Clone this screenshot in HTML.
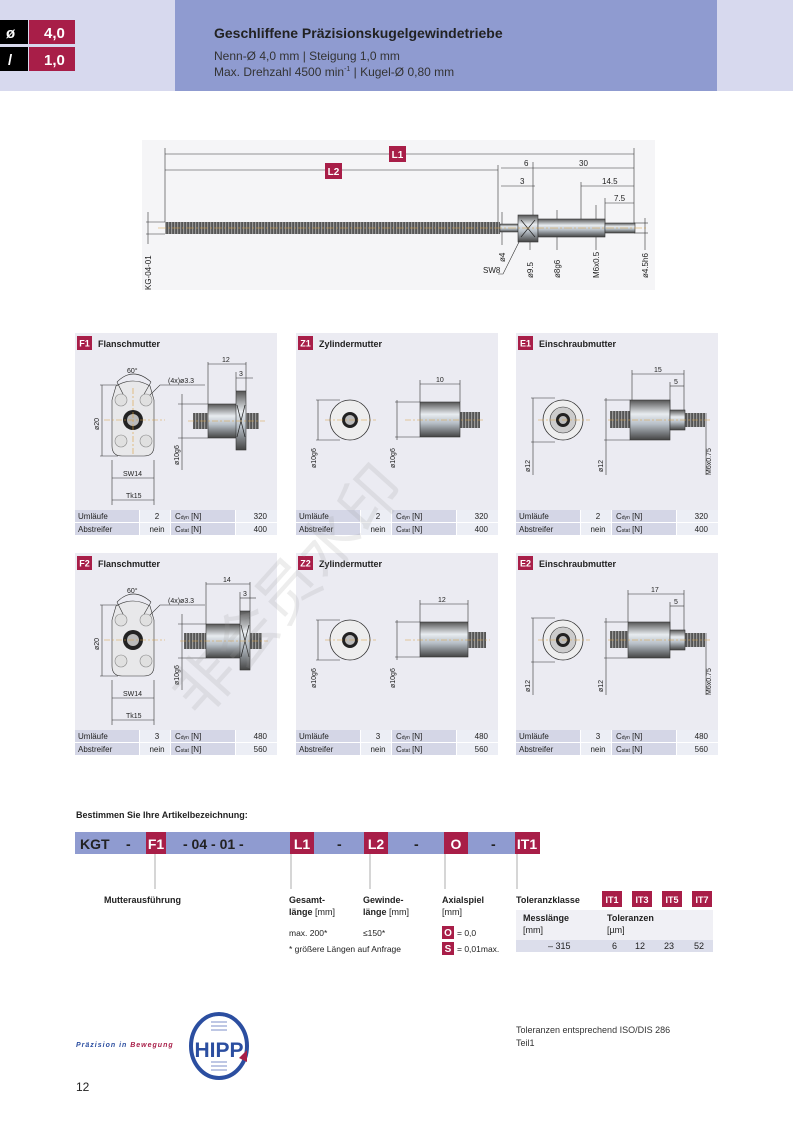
<!DOCTYPE html>
<html><head><meta charset="utf-8"><style>
html,body{margin:0;padding:0;background:#fff}
svg{display:block;font-family:"Liberation Sans","Noto Sans CJK SC",sans-serif}
.b{font-weight:bold}
</style></head><body>
<svg width="793" height="1122" viewBox="0 0 793 1122" xmlns="http://www.w3.org/2000/svg">
<defs>
<linearGradient id="m" x1="0" y1="0" x2="0" y2="1">
<stop offset="0" stop-color="#555"/><stop offset=".35" stop-color="#e8ecf0"/><stop offset=".6" stop-color="#b8c0c8"/><stop offset="1" stop-color="#444"/></linearGradient>
<pattern id="th" width="3" height="10" patternUnits="userSpaceOnUse"><rect width="3" height="10" fill="#555"/><rect width="1.2" height="10" fill="#999"/></pattern>
</defs>
<!-- header -->
<rect x="0" y="0" width="793" height="91" fill="#d7d9ee"/>
<rect x="175" y="0" width="542" height="91" fill="#8f9bd0"/>
<rect x="0" y="20" width="28" height="24" fill="#000"/><rect x="29" y="20" width="46" height="24" fill="#a81e48"/>
<rect x="0" y="47" width="28" height="24" fill="#000"/><rect x="29" y="47" width="46" height="24" fill="#a81e48"/>
<text x="6" y="38" fill="#fff" class="b" font-size="15">ø</text><text x="44" y="38" fill="#fff" class="b" font-size="15">4,0</text>
<text x="8" y="65" fill="#fff" class="b" font-size="15">/</text><text x="44" y="65" fill="#fff" class="b" font-size="15">1,0</text>
<text x="214" y="38" class="b" font-size="14" fill="#222">Geschliffene Präzisionskugelgewindetriebe</text>
<text x="214" y="60" font-size="12" fill="#333">Nenn-Ø 4,0 mm  |  Steigung 1,0 mm</text>
<text x="214" y="76" font-size="12" fill="#333">Max. Drehzahl 4500 min<tspan font-size="7" dy="-5">-1</tspan><tspan dy="5">  |  Kugel-Ø 0,80 mm</tspan></text>

<!-- top drawing -->
<rect x="142" y="140" width="513" height="150" fill="#f5f5f7"/>
<g stroke="#333" stroke-width=".6" fill="none">
<line x1="165" y1="154" x2="634" y2="154"/><line x1="165" y1="170" x2="498" y2="170"/>
<line x1="501" y1="168" x2="533" y2="168"/><line x1="533" y1="168" x2="634" y2="168"/>
<line x1="501" y1="186" x2="535" y2="186"/><line x1="581" y1="186" x2="634" y2="186"/><line x1="605" y1="203" x2="634" y2="203"/>
<line x1="165" y1="148" x2="165" y2="222"/><line x1="634" y1="148" x2="634" y2="223"/><line x1="498" y1="165" x2="498" y2="222"/>
<line x1="533" y1="162" x2="533" y2="215"/><line x1="581" y1="182" x2="581" y2="219"/><line x1="605" y1="198" x2="605" y2="223"/>
<line x1="148" y1="212" x2="148" y2="244"/><line x1="146" y1="222" x2="165" y2="222"/><line x1="146" y1="234" x2="165" y2="234"/>
<line x1="502" y1="212" x2="502" y2="245"/><line x1="530" y1="235" x2="530" y2="250"/><line x1="557" y1="210" x2="557" y2="250"/><line x1="596" y1="205" x2="596" y2="250"/>
<line x1="645" y1="218" x2="645" y2="250"/><line x1="634" y1="223" x2="648" y2="223"/><line x1="634" y1="233" x2="648" y2="233"/>
<polyline points="498,274 503,274 520,240"/>
</g>
<rect x="165" y="222" width="335" height="12" fill="url(#th)"/>
<rect x="500" y="224" width="18" height="8" fill="url(#m)" stroke="#333" stroke-width=".5"/>
<rect x="518" y="215" width="20" height="27" fill="url(#m)" stroke="#333" stroke-width=".6"/>
<path d="M521 220 L535 237 M535 220 L521 237" stroke="#222" stroke-width=".7"/>
<rect x="538" y="219" width="67" height="18" fill="url(#m)" stroke="#333" stroke-width=".6"/>
<rect x="605" y="223" width="30" height="10" fill="url(#m)" stroke="#333" stroke-width=".6"/>
<line x1="158" y1="228" x2="648" y2="228" stroke="#d9a040" stroke-width=".6" stroke-dasharray="8,2,2,2"/>
<rect x="389" y="146" width="17" height="16" fill="#a81e48"/><text x="397.5" y="158" fill="#fff" class="b" font-size="10" text-anchor="middle">L1</text>
<rect x="325" y="163" width="17" height="16" fill="#a81e48"/><text x="333.5" y="175" fill="#fff" class="b" font-size="10" text-anchor="middle">L2</text>
<g font-size="8" fill="#222">
<text x="524" y="166">6</text><text x="579" y="166">30</text><text x="520" y="184">3</text><text x="602" y="184">14.5</text><text x="614" y="201">7.5</text>
<text x="483" y="273">SW8</text>
<text transform="translate(151,290) rotate(-90)">KG-04-01</text>
<text transform="translate(505,262) rotate(-90)">ø4</text>
<text transform="translate(533,278) rotate(-90)">ø9.5</text>
<text transform="translate(560,278) rotate(-90)">ø8g6</text>
<text transform="translate(599,278) rotate(-90)">M6x0.5</text>
<text transform="translate(648,278) rotate(-90)">ø4.5h6</text>
</g>

<!-- panel template pieces -->
<g id="panels" font-size="8" fill="#222">
<!-- Row backgrounds -->
<rect x="75" y="333" width="202" height="204" fill="#ebebf2"/>
<rect x="296" y="333" width="202" height="204" fill="#ebebf2"/>
<rect x="516" y="333" width="202" height="204" fill="#ebebf2"/>
<rect x="75" y="553" width="202" height="204" fill="#ebebf2"/>
<rect x="296" y="553" width="202" height="204" fill="#ebebf2"/>
<rect x="516" y="553" width="202" height="204" fill="#ebebf2"/>
</g>

<!-- tables & headers, one per panel -->
<g font-size="8" fill="#222">
<g transform="translate(75,333)">
<rect x="0" y="177" width="202" height="27" fill="#fff"/>
<rect x="0" y="177" width="64" height="12" fill="#d4d6e6"/><rect x="65" y="177" width="30" height="12" fill="#eceef5"/><rect x="96" y="177" width="64" height="12" fill="#d4d6e6"/><rect x="161" y="177" width="41" height="12" fill="#eceef5"/>
<rect x="0" y="190" width="64" height="12" fill="#d4d6e6"/><rect x="65" y="190" width="30" height="12" fill="#eceef5"/><rect x="96" y="190" width="64" height="12" fill="#d4d6e6"/><rect x="161" y="190" width="41" height="12" fill="#eceef5"/>
<text x="3" y="186">Umläufe</text><text x="3" y="199">Abstreifer</text>
<text x="82" y="186" text-anchor="middle">2</text><text x="82" y="199" text-anchor="middle">nein</text>
<text x="100" y="186">C<tspan font-size="5">dyn</tspan> [N]</text><text x="100" y="199">C<tspan font-size="5">stat</tspan> [N]</text>
<text x="192" y="186" text-anchor="end">320</text><text x="192" y="199" text-anchor="end">400</text>
<rect x="2" y="3" width="15" height="14" fill="#a81e48"/><text x="9.5" y="13.5" fill="#fff" class="b" font-size="9" text-anchor="middle">F1</text>
<text x="23" y="14" class="b" font-size="9">Flanschmutter</text>
</g>
<g transform="translate(296,333)">
<rect x="0" y="177" width="202" height="27" fill="#fff"/>
<rect x="0" y="177" width="64" height="12" fill="#d4d6e6"/><rect x="65" y="177" width="30" height="12" fill="#eceef5"/><rect x="96" y="177" width="64" height="12" fill="#d4d6e6"/><rect x="161" y="177" width="41" height="12" fill="#eceef5"/>
<rect x="0" y="190" width="64" height="12" fill="#d4d6e6"/><rect x="65" y="190" width="30" height="12" fill="#eceef5"/><rect x="96" y="190" width="64" height="12" fill="#d4d6e6"/><rect x="161" y="190" width="41" height="12" fill="#eceef5"/>
<text x="3" y="186">Umläufe</text><text x="3" y="199">Abstreifer</text>
<text x="82" y="186" text-anchor="middle">2</text><text x="82" y="199" text-anchor="middle">nein</text>
<text x="100" y="186">C<tspan font-size="5">dyn</tspan> [N]</text><text x="100" y="199">C<tspan font-size="5">stat</tspan> [N]</text>
<text x="192" y="186" text-anchor="end">320</text><text x="192" y="199" text-anchor="end">400</text>
<rect x="2" y="3" width="15" height="14" fill="#a81e48"/><text x="9.5" y="13.5" fill="#fff" class="b" font-size="9" text-anchor="middle">Z1</text>
<text x="23" y="14" class="b" font-size="9">Zylindermutter</text>
</g>
<g transform="translate(516,333)">
<rect x="0" y="177" width="202" height="27" fill="#fff"/>
<rect x="0" y="177" width="64" height="12" fill="#d4d6e6"/><rect x="65" y="177" width="30" height="12" fill="#eceef5"/><rect x="96" y="177" width="64" height="12" fill="#d4d6e6"/><rect x="161" y="177" width="41" height="12" fill="#eceef5"/>
<rect x="0" y="190" width="64" height="12" fill="#d4d6e6"/><rect x="65" y="190" width="30" height="12" fill="#eceef5"/><rect x="96" y="190" width="64" height="12" fill="#d4d6e6"/><rect x="161" y="190" width="41" height="12" fill="#eceef5"/>
<text x="3" y="186">Umläufe</text><text x="3" y="199">Abstreifer</text>
<text x="82" y="186" text-anchor="middle">2</text><text x="82" y="199" text-anchor="middle">nein</text>
<text x="100" y="186">C<tspan font-size="5">dyn</tspan> [N]</text><text x="100" y="199">C<tspan font-size="5">stat</tspan> [N]</text>
<text x="192" y="186" text-anchor="end">320</text><text x="192" y="199" text-anchor="end">400</text>
<rect x="2" y="3" width="15" height="14" fill="#a81e48"/><text x="9.5" y="13.5" fill="#fff" class="b" font-size="9" text-anchor="middle">E1</text>
<text x="23" y="14" class="b" font-size="9">Einschraubmutter</text>
</g>
<g transform="translate(75,553)">
<rect x="0" y="177" width="202" height="27" fill="#fff"/>
<rect x="0" y="177" width="64" height="12" fill="#d4d6e6"/><rect x="65" y="177" width="30" height="12" fill="#eceef5"/><rect x="96" y="177" width="64" height="12" fill="#d4d6e6"/><rect x="161" y="177" width="41" height="12" fill="#eceef5"/>
<rect x="0" y="190" width="64" height="12" fill="#d4d6e6"/><rect x="65" y="190" width="30" height="12" fill="#eceef5"/><rect x="96" y="190" width="64" height="12" fill="#d4d6e6"/><rect x="161" y="190" width="41" height="12" fill="#eceef5"/>
<text x="3" y="186">Umläufe</text><text x="3" y="199">Abstreifer</text>
<text x="82" y="186" text-anchor="middle">3</text><text x="82" y="199" text-anchor="middle">nein</text>
<text x="100" y="186">C<tspan font-size="5">dyn</tspan> [N]</text><text x="100" y="199">C<tspan font-size="5">stat</tspan> [N]</text>
<text x="192" y="186" text-anchor="end">480</text><text x="192" y="199" text-anchor="end">560</text>
<rect x="2" y="3" width="15" height="14" fill="#a81e48"/><text x="9.5" y="13.5" fill="#fff" class="b" font-size="9" text-anchor="middle">F2</text>
<text x="23" y="14" class="b" font-size="9">Flanschmutter</text>
</g>
<g transform="translate(296,553)">
<rect x="0" y="177" width="202" height="27" fill="#fff"/>
<rect x="0" y="177" width="64" height="12" fill="#d4d6e6"/><rect x="65" y="177" width="30" height="12" fill="#eceef5"/><rect x="96" y="177" width="64" height="12" fill="#d4d6e6"/><rect x="161" y="177" width="41" height="12" fill="#eceef5"/>
<rect x="0" y="190" width="64" height="12" fill="#d4d6e6"/><rect x="65" y="190" width="30" height="12" fill="#eceef5"/><rect x="96" y="190" width="64" height="12" fill="#d4d6e6"/><rect x="161" y="190" width="41" height="12" fill="#eceef5"/>
<text x="3" y="186">Umläufe</text><text x="3" y="199">Abstreifer</text>
<text x="82" y="186" text-anchor="middle">3</text><text x="82" y="199" text-anchor="middle">nein</text>
<text x="100" y="186">C<tspan font-size="5">dyn</tspan> [N]</text><text x="100" y="199">C<tspan font-size="5">stat</tspan> [N]</text>
<text x="192" y="186" text-anchor="end">480</text><text x="192" y="199" text-anchor="end">560</text>
<rect x="2" y="3" width="15" height="14" fill="#a81e48"/><text x="9.5" y="13.5" fill="#fff" class="b" font-size="9" text-anchor="middle">Z2</text>
<text x="23" y="14" class="b" font-size="9">Zylindermutter</text>
</g>
<g transform="translate(516,553)">
<rect x="0" y="177" width="202" height="27" fill="#fff"/>
<rect x="0" y="177" width="64" height="12" fill="#d4d6e6"/><rect x="65" y="177" width="30" height="12" fill="#eceef5"/><rect x="96" y="177" width="64" height="12" fill="#d4d6e6"/><rect x="161" y="177" width="41" height="12" fill="#eceef5"/>
<rect x="0" y="190" width="64" height="12" fill="#d4d6e6"/><rect x="65" y="190" width="30" height="12" fill="#eceef5"/><rect x="96" y="190" width="64" height="12" fill="#d4d6e6"/><rect x="161" y="190" width="41" height="12" fill="#eceef5"/>
<text x="3" y="186">Umläufe</text><text x="3" y="199">Abstreifer</text>
<text x="82" y="186" text-anchor="middle">3</text><text x="82" y="199" text-anchor="middle">nein</text>
<text x="100" y="186">C<tspan font-size="5">dyn</tspan> [N]</text><text x="100" y="199">C<tspan font-size="5">stat</tspan> [N]</text>
<text x="192" y="186" text-anchor="end">480</text><text x="192" y="199" text-anchor="end">560</text>
<rect x="2" y="3" width="15" height="14" fill="#a81e48"/><text x="9.5" y="13.5" fill="#fff" class="b" font-size="9" text-anchor="middle">E2</text>
<text x="23" y="14" class="b" font-size="9">Einschraubmutter</text>
</g>
</g>

<!-- Flanschmutter drawings -->
<g id="fl">
<g stroke="#333" stroke-width=".6" fill="none">
<path d="M116 386 Q133 376 150 386 L154 400 L154 446 Q154 456 144 456 L122 456 Q112 456 112 446 L112 400 Z" fill="#e8e8ea"/>
<line x1="102" y1="385" x2="102" y2="456"/><line x1="100" y1="385" x2="118" y2="385"/><line x1="100" y1="456" x2="118" y2="456"/>
<path d="M117 382 Q133 366 151 382"/><line x1="117" y1="382" x2="124" y2="396"/><line x1="151" y1="382" x2="143" y2="396"/>
<line x1="112" y1="460" x2="112" y2="505"/><line x1="154" y1="460" x2="154" y2="505"/><line x1="112" y1="478" x2="154" y2="478"/><line x1="112" y1="500" x2="154" y2="500"/>
<polyline points="147,398 160,385 205,385"/>
<line x1="182" y1="394" x2="182" y2="470"/><line x1="178" y1="404" x2="208" y2="404"/><line x1="178" y1="438" x2="208" y2="438"/>
<line x1="208" y1="362" x2="208" y2="404"/><line x1="246" y1="362" x2="246" y2="391"/><line x1="208" y1="364" x2="246" y2="364"/>
<line x1="236" y1="378" x2="253" y2="378"/><line x1="236" y1="372" x2="236" y2="391"/>
</g>
<g stroke="#888" stroke-width=".6" fill="#e0e0e0"><circle cx="121" cy="400" r="6"/><circle cx="146" cy="400" r="6"/><circle cx="121" cy="441" r="6"/><circle cx="146" cy="441" r="6"/></g>
<circle cx="133" cy="420" r="10" fill="#222"/><circle cx="133" cy="420" r="6" fill="#bbb"/>
<line x1="104" y1="420" x2="165" y2="420" stroke="#d9a040" stroke-width=".6" stroke-dasharray="6,2,2,2"/>
<line x1="133" y1="388" x2="133" y2="455" stroke="#d9a040" stroke-width=".6" stroke-dasharray="6,2,2,2"/>
<rect x="193" y="413" width="15" height="16" fill="url(#th)"/>
<rect x="246" y="413" width="13" height="16" fill="url(#th)"/>
<rect x="208" y="404" width="30" height="34" fill="url(#m)" stroke="#333" stroke-width=".6"/>
<rect x="236" y="391" width="10" height="59" fill="url(#m)" stroke="#333" stroke-width=".6"/>
<path d="M237 405 L245 437 M245 405 L237 437" stroke="#222" stroke-width=".7"/>
<line x1="188" y1="421" x2="265" y2="421" stroke="#d9a040" stroke-width=".6" stroke-dasharray="6,2,2,2"/>
</g>
<g font-size="7" fill="#222">
<text x="127" y="373">60°</text><text x="168" y="383">(4x)ø3.3</text><text x="222" y="362">12</text><text x="239" y="376">3</text>
<text x="123" y="476">SW14</text><text x="126" y="498">Tk15</text>
<text transform="translate(99,430) rotate(-90)">ø20</text><text transform="translate(179,465) rotate(-90)">ø10g6</text>
</g>
<!-- F2 -->
<g transform="translate(0,220)">
<g stroke="#333" stroke-width=".6" fill="none">
<path d="M116 386 Q133 376 150 386 L154 400 L154 446 Q154 456 144 456 L122 456 Q112 456 112 446 L112 400 Z" fill="#e8e8ea"/>
<line x1="102" y1="385" x2="102" y2="456"/><line x1="100" y1="385" x2="118" y2="385"/><line x1="100" y1="456" x2="118" y2="456"/>
<path d="M117 382 Q133 366 151 382"/><line x1="117" y1="382" x2="124" y2="396"/><line x1="151" y1="382" x2="143" y2="396"/>
<line x1="112" y1="460" x2="112" y2="505"/><line x1="154" y1="460" x2="154" y2="505"/><line x1="112" y1="478" x2="154" y2="478"/><line x1="112" y1="500" x2="154" y2="500"/>
<polyline points="147,398 160,385 205,385"/>
<line x1="182" y1="394" x2="182" y2="470"/><line x1="178" y1="404" x2="206" y2="404"/><line x1="178" y1="438" x2="206" y2="438"/>
<line x1="206" y1="362" x2="206" y2="404"/><line x1="250" y1="362" x2="250" y2="391"/><line x1="206" y1="364" x2="250" y2="364"/>
<line x1="240" y1="378" x2="256" y2="378"/><line x1="240" y1="372" x2="240" y2="391"/>
</g>
<g stroke="#888" stroke-width=".6" fill="#e0e0e0"><circle cx="121" cy="400" r="6"/><circle cx="146" cy="400" r="6"/><circle cx="121" cy="441" r="6"/><circle cx="146" cy="441" r="6"/></g>
<circle cx="133" cy="420" r="10" fill="#222"/><circle cx="133" cy="420" r="6" fill="#bbb"/>
<line x1="104" y1="420" x2="165" y2="420" stroke="#d9a040" stroke-width=".6" stroke-dasharray="6,2,2,2"/>
<rect x="184" y="413" width="22" height="16" fill="url(#th)"/>
<rect x="250" y="413" width="12" height="16" fill="url(#th)"/>
<rect x="206" y="404" width="36" height="34" fill="url(#m)" stroke="#333" stroke-width=".6"/>
<rect x="240" y="391" width="10" height="59" fill="url(#m)" stroke="#333" stroke-width=".6"/>
<path d="M241 405 L249 437 M249 405 L241 437" stroke="#222" stroke-width=".7"/>
<line x1="180" y1="421" x2="268" y2="421" stroke="#d9a040" stroke-width=".6" stroke-dasharray="6,2,2,2"/>
<g font-size="7" fill="#222">
<text x="127" y="373">60°</text><text x="168" y="383">(4x)ø3.3</text><text x="223" y="362">14</text><text x="243" y="376">3</text>
<text x="123" y="476">SW14</text><text x="126" y="498">Tk15</text>
<text transform="translate(99,430) rotate(-90)">ø20</text><text transform="translate(179,465) rotate(-90)">ø10g6</text>
</g>
</g>

<!-- Zylindermutter -->
<g>
<g stroke="#333" stroke-width=".6" fill="none">
<line x1="318" y1="400" x2="318" y2="440"/><line x1="316" y1="400" x2="340" y2="400"/><line x1="316" y1="440" x2="340" y2="440"/>
<line x1="397" y1="400" x2="397" y2="440"/><line x1="395" y1="402" x2="420" y2="402"/><line x1="395" y1="437" x2="420" y2="437"/>
<line x1="420" y1="380" x2="420" y2="402"/><line x1="460" y1="380" x2="460" y2="402"/><line x1="420" y1="384" x2="460" y2="384"/>
</g>
<circle cx="350" cy="420" r="20" fill="#eee" stroke="#333" stroke-width=".8"/><circle cx="350" cy="420" r="8" fill="#222"/><circle cx="350" cy="420" r="5" fill="#bbb"/>
<line x1="325" y1="420" x2="376" y2="420" stroke="#d9a040" stroke-width=".6" stroke-dasharray="6,2,2,2"/>
<rect x="460" y="412" width="20" height="16" fill="url(#th)"/>
<rect x="420" y="402" width="40" height="35" fill="url(#m)" stroke="#333" stroke-width=".6"/>
<line x1="405" y1="420" x2="485" y2="420" stroke="#d9a040" stroke-width=".6" stroke-dasharray="6,2,2,2"/>
<g font-size="7" fill="#222"><text x="436" y="382">10</text>
<text transform="translate(316,468) rotate(-90)">ø10g6</text><text transform="translate(395,468) rotate(-90)">ø10g6</text></g>
</g>
<g transform="translate(0,220)">
<g stroke="#333" stroke-width=".6" fill="none">
<line x1="318" y1="400" x2="318" y2="440"/><line x1="316" y1="400" x2="340" y2="400"/><line x1="316" y1="440" x2="340" y2="440"/>
<line x1="397" y1="400" x2="397" y2="440"/><line x1="395" y1="402" x2="420" y2="402"/><line x1="395" y1="437" x2="420" y2="437"/>
<line x1="420" y1="380" x2="420" y2="402"/><line x1="468" y1="380" x2="468" y2="402"/><line x1="420" y1="384" x2="468" y2="384"/>
</g>
<circle cx="350" cy="420" r="20" fill="#eee" stroke="#333" stroke-width=".8"/><circle cx="350" cy="420" r="8" fill="#222"/><circle cx="350" cy="420" r="5" fill="#bbb"/>
<line x1="325" y1="420" x2="376" y2="420" stroke="#d9a040" stroke-width=".6" stroke-dasharray="6,2,2,2"/>
<rect x="468" y="412" width="18" height="16" fill="url(#th)"/>
<rect x="420" y="402" width="48" height="35" fill="url(#m)" stroke="#333" stroke-width=".6"/>
<line x1="405" y1="420" x2="490" y2="420" stroke="#d9a040" stroke-width=".6" stroke-dasharray="6,2,2,2"/>
<g font-size="7" fill="#222"><text x="438" y="382">12</text>
<text transform="translate(316,468) rotate(-90)">ø10g6</text><text transform="translate(395,468) rotate(-90)">ø10g6</text></g>
</g>

<!-- Einschraubmutter -->
<g>
<g stroke="#333" stroke-width=".6" fill="none">
<line x1="533" y1="398" x2="533" y2="475"/><line x1="531" y1="398" x2="555" y2="398"/><line x1="531" y1="442" x2="555" y2="442"/>
<line x1="606" y1="398" x2="606" y2="475"/><line x1="604" y1="400" x2="630" y2="400"/><line x1="604" y1="440" x2="630" y2="440"/>
<line x1="632" y1="370" x2="632" y2="400"/><line x1="684" y1="370" x2="684" y2="410"/><line x1="632" y1="374" x2="684" y2="374"/>
<line x1="670" y1="382" x2="670" y2="410"/><line x1="670" y1="386" x2="684" y2="386"/>
<line x1="706" y1="413" x2="706" y2="475"/>
</g>
<circle cx="563" cy="420" r="20" fill="#eee" stroke="#333" stroke-width=".8"/><circle cx="563" cy="420" r="13" fill="#ccc" stroke="#333" stroke-width=".6"/><circle cx="563" cy="420" r="7" fill="#222"/><circle cx="563" cy="420" r="4" fill="#bbb"/>
<line x1="538" y1="420" x2="590" y2="420" stroke="#d9a040" stroke-width=".6" stroke-dasharray="6,2,2,2"/>
<rect x="610" y="411" width="22" height="17" fill="url(#th)"/>
<rect x="685" y="413" width="20" height="14" fill="url(#th)"/>
<rect x="630" y="400" width="40" height="40" fill="url(#m)" stroke="#333" stroke-width=".6"/>
<rect x="670" y="410" width="15" height="20" fill="url(#m)" stroke="#333" stroke-width=".6"/>
<line x1="608" y1="420" x2="710" y2="420" stroke="#d9a040" stroke-width=".6" stroke-dasharray="6,2,2,2"/>
<g font-size="7" fill="#222"><text x="654" y="372">15</text><text x="674" y="384">5</text>
<text transform="translate(530,472) rotate(-90)">ø12</text><text transform="translate(603,472) rotate(-90)">ø12</text><text transform="translate(711,475) rotate(-90)">M6x0.75</text></g>
</g>
<g transform="translate(0,220)">
<g stroke="#333" stroke-width=".6" fill="none">
<line x1="533" y1="398" x2="533" y2="475"/><line x1="531" y1="398" x2="555" y2="398"/><line x1="531" y1="442" x2="555" y2="442"/>
<line x1="606" y1="398" x2="606" y2="475"/><line x1="604" y1="402" x2="628" y2="402"/><line x1="604" y1="438" x2="628" y2="438"/>
<line x1="628" y1="370" x2="628" y2="402"/><line x1="684" y1="370" x2="684" y2="410"/><line x1="628" y1="374" x2="684" y2="374"/>
<line x1="670" y1="382" x2="670" y2="410"/><line x1="670" y1="386" x2="684" y2="386"/>
<line x1="706" y1="413" x2="706" y2="475"/>
</g>
<circle cx="563" cy="420" r="20" fill="#eee" stroke="#333" stroke-width=".8"/><circle cx="563" cy="420" r="13" fill="#ccc" stroke="#333" stroke-width=".6"/><circle cx="563" cy="420" r="7" fill="#222"/><circle cx="563" cy="420" r="4" fill="#bbb"/>
<line x1="538" y1="420" x2="590" y2="420" stroke="#d9a040" stroke-width=".6" stroke-dasharray="6,2,2,2"/>
<rect x="610" y="411" width="18" height="17" fill="url(#th)"/>
<rect x="685" y="413" width="20" height="14" fill="url(#th)"/>
<rect x="628" y="402" width="42" height="36" fill="url(#m)" stroke="#333" stroke-width=".6"/>
<rect x="670" y="410" width="15" height="20" fill="url(#m)" stroke="#333" stroke-width=".6"/>
<line x1="608" y1="420" x2="710" y2="420" stroke="#d9a040" stroke-width=".6" stroke-dasharray="6,2,2,2"/>
<g font-size="7" fill="#222"><text x="651" y="372">17</text><text x="674" y="384">5</text>
<text transform="translate(530,472) rotate(-90)">ø12</text><text transform="translate(603,472) rotate(-90)">ø12</text><text transform="translate(711,475) rotate(-90)">M6x0.75</text></g>
</g>

<!-- watermark -->
<text transform="translate(200,720) rotate(-48)" font-size="62" fill="#999" fill-opacity="0.18">非会员水印</text>

<!-- article code -->
<text x="76" y="818" class="b" font-size="9" fill="#222">Bestimmen Sie Ihre Artikelbezeichnung:</text>
<rect x="75" y="832" width="465" height="22" fill="#8f9bd0"/>
<g fill="#a81e48"><rect x="146" y="832" width="20" height="22"/><rect x="290" y="832" width="24" height="22"/><rect x="364" y="832" width="24" height="22"/><rect x="444" y="832" width="24" height="22"/><rect x="515" y="832" width="25" height="22"/></g>
<g class="b" font-size="14" fill="#222">
<text x="80" y="849">KGT</text><text x="126" y="849">-</text><text x="183" y="849">-  04  -  01  -</text><text x="337" y="849">-</text><text x="414" y="849">-</text><text x="491" y="849">-</text>
</g>
<g class="b" font-size="14" fill="#fff" text-anchor="middle">
<text x="156" y="849">F1</text><text x="302" y="849">L1</text><text x="376" y="849">L2</text><text x="456" y="849">O</text><text x="527" y="849">IT1</text>
</g>
<g stroke="#999" stroke-width=".8"><line x1="155" y1="854" x2="155" y2="889"/><line x1="291" y1="854" x2="291" y2="889"/><line x1="370" y1="854" x2="370" y2="889"/><line x1="445" y1="854" x2="445" y2="889"/><line x1="517" y1="854" x2="517" y2="889"/></g>
<g font-size="9" fill="#222">
<text x="104" y="903" class="b">Mutterausführung</text>
<text x="289" y="903" class="b">Gesamt-</text><text x="289" y="915"><tspan class="b">länge</tspan> [mm]</text>
<text x="363" y="903" class="b">Gewinde-</text><text x="363" y="915"><tspan class="b">länge</tspan> [mm]</text>
<text x="442" y="903" class="b">Axialspiel</text><text x="442" y="915">[mm]</text>
<text x="516" y="903" class="b">Toleranzklasse</text>
<text x="289" y="936" font-size="8.5">max. 200*</text><text x="363" y="936" font-size="8.5">≤150*</text>
<text x="289" y="952" font-size="8.5">* größere Längen auf Anfrage</text>
</g>
<rect x="442" y="926" width="12" height="13" fill="#a81e48"/><text x="448" y="936" class="b" font-size="10" fill="#fff" text-anchor="middle">O</text><text x="457" y="936" font-size="8.5" fill="#222">= 0,0</text>
<rect x="442" y="942" width="12" height="13" fill="#a81e48"/><text x="448" y="952" class="b" font-size="10" fill="#fff" text-anchor="middle">S</text><text x="457" y="952" font-size="8.5" fill="#222">= 0,01max.</text>
<g fill="#a81e48"><rect x="602" y="891" width="20" height="16"/><rect x="632" y="891" width="20" height="16"/><rect x="662" y="891" width="20" height="16"/><rect x="692" y="891" width="20" height="16"/></g>
<g class="b" font-size="9" fill="#fff" text-anchor="middle"><text x="612" y="903">IT1</text><text x="642" y="903">IT3</text><text x="672" y="903">IT5</text><text x="702" y="903">IT7</text></g>
<rect x="516" y="910" width="197" height="30" fill="#f0f0f5"/>
<rect x="516" y="940" width="197" height="12" fill="#dcdeeb"/>
<g font-size="9" fill="#222">
<text x="523" y="921" class="b">Messlänge</text><text x="523" y="933">[mm]</text>
<text x="607" y="921" class="b">Toleranzen</text><text x="607" y="933">[µm]</text>
<text x="548" y="949">–  315</text><text x="612" y="949">6</text><text x="635" y="949">12</text><text x="664" y="949">23</text><text x="694" y="949">52</text>
</g>

<!-- footer -->
<text x="76" y="1047" font-size="7" font-style="italic" class="b" fill="#2b4ea0" letter-spacing="1">Präzision in <tspan fill="#a81e48">Bewegung</tspan></text>
<ellipse cx="219" cy="1046" rx="28" ry="32" fill="none" stroke="#2b4ea0" stroke-width="4"/>
<rect x="200" y="1033" width="38" height="26" fill="#fff"/>
<g stroke="#7e8fc8" stroke-width="1" fill="none"><path d="M211 1022 h16 M211 1026 h16 M211 1030 h16 M211 1062 h16 M211 1066 h16 M211 1070 h16"/></g>
<text x="219" y="1057" class="b" font-size="21" fill="#2b4ea0" text-anchor="middle">HIPP</text>
<path d="M239 1058 L247 1050 L247 1062 Z" fill="#a81e48"/>
<text x="516" y="1033" font-size="9" fill="#333">Toleranzen entsprechend ISO/DIS 286</text>
<text x="516" y="1046" font-size="9" fill="#333">Teil1</text>
<text x="76" y="1091" font-size="12" fill="#222">12</text>
</svg>
</body></html>
